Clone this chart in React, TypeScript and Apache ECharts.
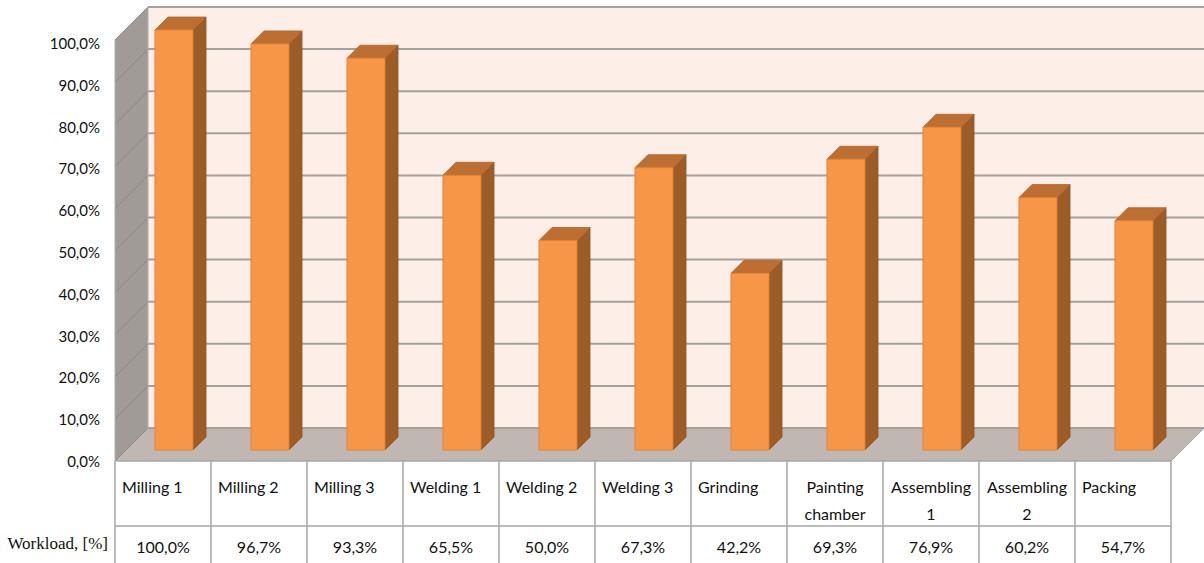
import React, { useEffect, useRef } from "react";
import * as echarts from "echarts";

const categories = [
  "Milling 1",
  "Milling 2",
  "Milling 3",
  "Welding 1",
  "Welding 2",
  "Welding 3",
  "Grinding",
  "Painting chamber",
  "Assembling 1",
  "Assembling 2",
  "Packing",
];
const workload = [100.0, 96.7, 93.3, 65.5, 50.0, 67.3, 42.2, 69.3, 76.9, 60.2, 54.7];
const rowLabel = "Workload, [%]";
const yMin = 0;
const yMax = 100;
const yStep = 10;

const DEPTH = 33; // wall depth (px offset back plane -> front plane)
const BAR_FRONT = 22; // bar front face offset from back plane
const BAR_DEPTH = 13; // bar depth
const BAR_HALF = 19;
const FONT = "Lato, 'Open Sans', sans-serif";
const TEXT = "#111111";

const fmt = (v: number) => v.toFixed(1).replace(".", ",") + "%";
const wrapLabel = (s: string) => {
  if (s.length <= 10) return s;
  const i = s.lastIndexOf(" ");
  return i > 0 ? s.slice(0, i) + "\n" + s.slice(i + 1) : s;
};

export default function App() {
  const ref = useRef<HTMLDivElement>(null);
  useEffect(() => {
    if (!ref.current) return;
    const chart = echarts.init(ref.current, null, { renderer: "svg" });

    const wallsRender = (params: any, api: any) => {
      const cs = params.coordSys;
      const x0 = cs.x;
      const x1 = cs.x + cs.width;
      const yTop = cs.y;
      const yBot = cs.y + cs.height;
      const D = DEPTH;
      const H = api.getHeight();
      const children: any[] = [];
      children.push({
        type: "rect",
        shape: { x: x0, y: yTop, width: cs.width, height: yBot - yTop },
        style: { fill: "#FDEEE7" },
      });
      children.push({
        type: "polygon",
        shape: { points: [[x0 - D, yTop + D], [x0, yTop], [x0, yBot], [x0 - D, yBot + D]] },
        style: { fill: "#A19B98" },
      });
      children.push({
        type: "polygon",
        shape: { points: [[x0, yBot], [x1, yBot], [x1 - D, yBot + D], [x0 - D, yBot + D]] },
        style: { fill: "#C0B7B3" },
      });
      for (let v = yMin; v <= yMax; v += yStep) {
        const y = api.coord([0, v])[1];
        children.push({
          type: "line",
          shape: { x1: x0, y1: y, x2: x1, y2: y },
          style: { stroke: "#A3A09E", lineWidth: 2 },
        });
        children.push({
          type: "line",
          shape: { x1: x0 - D, y1: y + D, x2: x0, y2: y },
          style: { stroke: "#8C8784", lineWidth: 1 },
        });
      }
      // wall edges
      children.push({
        type: "line",
        shape: { x1: x0, y1: yTop, x2: x0, y2: yBot },
        style: { stroke: "#B4B0AE", lineWidth: 1 },
      });
      children.push({
        type: "line",
        shape: { x1: x0 - D, y1: yTop + D, x2: x0 - D, y2: yBot + D },
        style: { stroke: "#B4B0AE", lineWidth: 1 },
      });
      children.push({
        type: "line",
        shape: { x1: x0 - D, y1: yBot + D, x2: x1 - D, y2: yBot + D },
        style: { stroke: "#A6A6A6", lineWidth: 1.5 },
      });
      children.push({
        type: "line",
        shape: { x1: x1 - D, y1: yBot + D, x2: x1, y2: yBot },
        style: { stroke: "#A6A6A6", lineWidth: 1 },
      });
      // table grid
      const bw = cs.width / categories.length;
      const tTop = yBot + D;
      const rowY = tTop + 65;
      for (let k = 0; k <= categories.length; k++) {
        const x = x0 - D + k * bw;
        children.push({
          type: "line",
          shape: { x1: x, y1: tTop, x2: x, y2: H },
          style: { stroke: "#A6A6A6", lineWidth: 1.5 },
        });
      }
      children.push({
        type: "line",
        shape: { x1: x0 - D, y1: rowY, x2: x1 - D, y2: rowY },
        style: { stroke: "#A6A6A6", lineWidth: 1.5 },
      });
      children.push({
        type: "text",
        x: x0 - D - 7,
        y: rowY + 17,
        style: {
          text: rowLabel,
          fill: TEXT,
          fontSize: 17,
          fontFamily: "'Liberation Serif', 'Times New Roman', serif",
          align: "right",
          verticalAlign: "middle",
        },
      });
      return { type: "group", children };
    };

    const barRender = (params: any, api: any) => {
      const i = api.value(0);
      const v = api.value(1);
      const top = api.coord([i, v]);
      const base = api.coord([i, 0]);
      const cx = top[0] - BAR_FRONT;
      const fy1 = top[1] + BAR_FRONT + 1;
      const fy2 = base[1] + BAR_FRONT;
      const xl = cx - BAR_HALF;
      const xr = cx + BAR_HALF;
      const d = BAR_DEPTH;
      return {
        type: "group",
        children: [
          {
            type: "polygon",
            shape: { points: [[xr, fy1], [xr + d, fy1 - d], [xr + d, fy2 - d], [xr, fy2]] },
            style: { fill: "#9C5B27", stroke: "#8E5222", lineWidth: 0.8 },
          },
          {
            type: "polygon",
            shape: { points: [[xl, fy1], [xr, fy1], [xr + d, fy1 - d], [xl + d, fy1 - d]] },
            style: { fill: "#BD6E33", stroke: "#B0642A", lineWidth: 0.8 },
          },
          {
            type: "rect",
            shape: { x: xl, y: fy1, width: xr - xl, height: fy2 - fy1 },
            style: { fill: "#F79646", stroke: "#E08236", lineWidth: 1 },
          },
        ],
      };
    };

    const tableRender = (params: any, api: any) => {
      const i = api.value(0);
      const v = api.value(1);
      const cs = params.coordSys;
      const bw = cs.width / categories.length;
      const cx = api.coord([i, 0])[0] - DEPTH;
      const tTop = cs.y + cs.height + DEPTH;
      const label = wrapLabel(categories[i]);
      const multi = label.indexOf("\n") >= 0;
      return {
        type: "group",
        children: [
          {
            type: "text",
            x: multi ? cx : cx - bw / 2 + 7,
            y: tTop + 12,
            style: {
              text: label,
              fill: TEXT,
              fontSize: 16,
              fontFamily: FONT,
              lineHeight: 27,
              align: multi ? "center" : "left",
              verticalAlign: "top",
            },
          },
          {
            type: "text",
            x: cx,
            y: tTop + 85,
            style: {
              text: fmt(v),
              fill: TEXT,
              fontSize: 16,
              fontFamily: FONT,
              align: "center",
              verticalAlign: "middle",
            },
          },
        ],
      };
    };

    const data = workload.map((v, i) => [i, v]);

    chart.setOption({
      animation: false,
      backgroundColor: "#ffffff",
      grid: [
        { left: 148, top: 7, width: 1056, height: 421 },
        { left: 115, top: 43, width: 1056, height: 418 },
      ],
      xAxis: [
        { type: "category", data: categories, gridIndex: 0, show: false },
        { type: "category", data: categories, gridIndex: 1, show: false },
      ],
      yAxis: [
        { type: "value", min: yMin, max: yMax, interval: yStep, gridIndex: 0, show: false },
        {
          type: "value",
          min: yMin,
          max: yMax,
          interval: yStep,
          gridIndex: 1,
          axisLine: { show: false },
          axisTick: { show: false },
          splitLine: { show: false },
          axisLabel: {
            margin: 15,
            fontSize: 15,
            fontFamily: FONT,
            color: TEXT,
            formatter: (v: number) => fmt(v),
          },
        },
      ],
      series: [
        {
          type: "custom",
          name: "walls",
          xAxisIndex: 0,
          yAxisIndex: 0,
          z: 1,
          silent: true,
          clip: false,
          renderItem: wallsRender,
          data: [[0, 0]],
        },
        {
          type: "custom",
          name: "Workload",
          xAxisIndex: 0,
          yAxisIndex: 0,
          z: 3,
          clip: false,
          renderItem: barRender,
          data,
        },
        {
          type: "custom",
          name: "table",
          xAxisIndex: 0,
          yAxisIndex: 0,
          z: 3,
          clip: false,
          renderItem: tableRender,
          data,
        },
      ],
    });
    return () => chart.dispose();
  }, []);
  return (
    <div
      ref={ref}
      style={{ position: "absolute", left: 0, top: 0, width: 1204, height: 563, background: "#fff" }}
    />
  );
}
